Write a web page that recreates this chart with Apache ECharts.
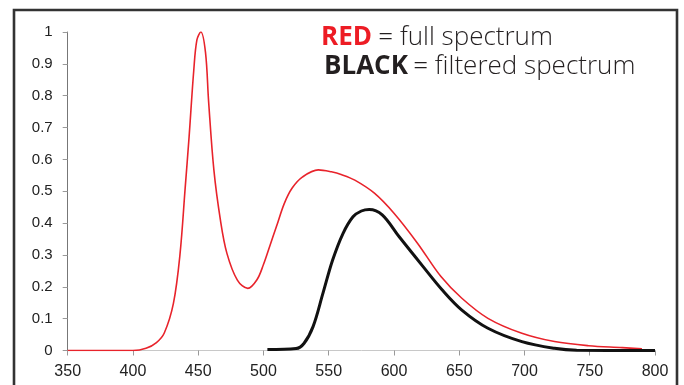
<!DOCTYPE html>
<html>
<head>
<meta charset="utf-8">
<script src="https://cdn.jsdelivr.net/npm/echarts@6/dist/echarts.min.js"></script>
<style>
  html, body { margin: 0; padding: 0; background: #fff; }
  #root { width: 684px; height: 385px; }
</style>
</head>
<body>
<div id="root"></div>
<script>
// wavelengths (nm) and relative intensity
let redX = [350, 400, 410, 418, 424, 431, 436, 440, 443, 446.6, 449, 452, 455.6, 458, 462, 467, 472, 480, 488, 495, 500, 505, 510, 516, 522, 530, 542, 552, 560, 570, 585, 600, 618, 636, 652, 672, 698, 723, 749, 775, 790];
let redY = [0, 0, 0.007, 0.025, 0.055, 0.148, 0.3, 0.51, 0.67, 0.88, 0.975, 1.0, 0.935, 0.78, 0.567, 0.41, 0.305, 0.221, 0.195, 0.222, 0.27, 0.33, 0.39, 0.462, 0.51, 0.545, 0.567, 0.561, 0.552, 0.535, 0.494, 0.431, 0.337, 0.232, 0.164, 0.101, 0.054, 0.028, 0.015, 0.009, 0.005];

let blackX = [503, 525, 531, 538, 545.6, 553, 561, 568.6, 575, 581, 591, 604, 622, 637, 652, 672, 698, 723, 740, 800];
let blackY = [0.003, 0.006, 0.022, 0.075, 0.18, 0.284, 0.368, 0.42, 0.438, 0.443, 0.426, 0.357, 0.265, 0.19, 0.127, 0.07, 0.028, 0.007, 0.001, 0];

let xTicks = { min: 350, max: 800, step: 50 };
let yTicks = { min: 0, max: 1, step: 0.1 };

let pairs = (xs, ys) => xs.map((x, i) => [x, ys[i]]);

let root = document.getElementById('root');
let myCharts = echarts.init(root);
let option = {
    animation: false,
    grid: { left: 67.7, right: 29, top: 32, bottom: 34.5 },
    xAxis: {
        type: 'value',
        min: xTicks.min,
        max: xTicks.max,
        interval: xTicks.step,
        splitLine: { show: false },
        axisLine: { lineStyle: { color: '#c8c8c8', width: 1 } },
        axisTick: { show: true, length: 5, lineStyle: { color: '#999' } },
        axisLabel: { fontFamily: 'Liberation Sans', fontSize: 16, color: '#222', margin: 13 }
    },
    yAxis: {
        type: 'value',
        min: yTicks.min,
        max: yTicks.max,
        interval: yTicks.step,
        splitLine: { show: false },
        axisLine: { show: true, lineStyle: { color: '#777', width: 1 } },
        axisTick: { show: true, length: 5, lineStyle: { color: '#999' } },
        axisLabel: { fontFamily: 'Liberation Sans', fontSize: 15, color: '#222', margin: 15 }
    },
    series: [
        {
            name: 'full spectrum',
            type: 'line',
            data: pairs(redX, redY),
            smooth: 0.35,
            showSymbol: false,
            lineStyle: { color: '#e8232b', width: 1.6 },
            z: 2
        },
        {
            name: 'filtered spectrum',
            type: 'line',
            data: pairs(blackX, blackY),
            smooth: 0.35,
            showSymbol: false,
            lineStyle: { color: '#111', width: 3 },
            z: 3
        }
    ],
    graphic: [
        {
            type: 'rect',
            shape: { x: 14, y: 10, width: 663, height: 400 },
            style: { fill: 'none', stroke: '#333', lineWidth: 2.6 },
            silent: true
        },
        {
            type: 'text',
            left: 321,
            top: 25,
            style: {
                text: '{r|RED} {t|= full spectrum}',
                rich: {
                    r: { fontFamily: 'Open Sans', fontWeight: 'bold', fontSize: 26, fill: '#ed1c24' },
                    t: { fontFamily: 'Open Sans', fontWeight: 300, fontSize: 26, fill: '#231f20', padding: [0, 0, 0, 3] }
                }
            }
        },
        {
            type: 'text',
            left: 324,
            top: 54,
            style: {
                text: '{b|BLACK} {t|= filtered spectrum}',
                rich: {
                    b: { fontFamily: 'Open Sans', fontWeight: 'bold', fontSize: 26, fill: '#231f20' },
                    t: { fontFamily: 'Open Sans', fontWeight: 300, fontSize: 26, fill: '#231f20', padding: [0, 0, 0, 2] }
                }
            }
        }
    ]
};
myCharts.setOption(option);
</script>
</body>
</html>
